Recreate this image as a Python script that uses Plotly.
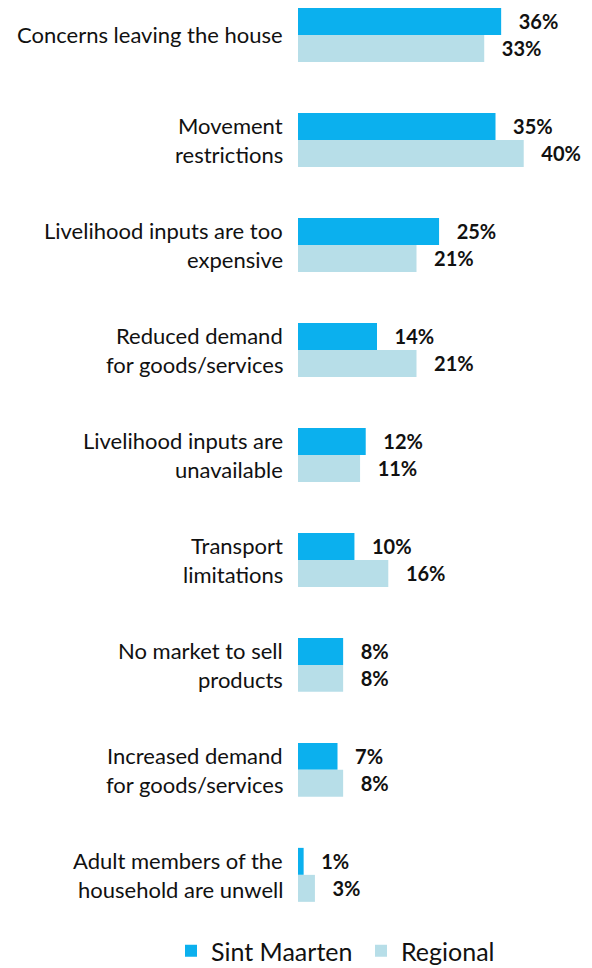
import plotly.graph_objects as go

# Reasons livelihoods were affected, share of respondents (%)
categories = [
    "Concerns leaving the house",
    "Movement restrictions",
    "Livelihood inputs are too expensive",
    "Reduced demand for goods/services",
    "Livelihood inputs are unavailable",
    "Transport limitations",
    "No market to sell products",
    "Increased demand for goods/services",
    "Adult members of the household are unwell",
]
# Wrapped label lines shown next to each category
label_lines = [
    ["Concerns leaving the house"],
    ["Movement", "restrictions"],
    ["Livelihood inputs are too", "expensive"],
    ["Reduced demand", "for goods/services"],
    ["Livelihood inputs are", "unavailable"],
    ["Transport", "limitations"],
    ["No market to sell", "products"],
    ["Increased demand", "for goods/services"],
    ["Adult members of the", "household are unwell"],
]
sint_maarten = [36, 35, 25, 14, 12, 10, 8, 7, 1]
regional = [33, 40, 21, 21, 11, 16, 8, 8, 3]

C_SXM = "#0BB0EE"
C_REG = "#B7DEE8"
FONT = "Lato, 'Open Sans', sans-serif"
PAD = "\u00a0" * 3

fig = go.Figure()
for name, vals, col, leg in [("Sint Maarten", sint_maarten, C_SXM, "legend"),
                             ("Regional", regional, C_REG, "legend2")]:
    fig.add_trace(go.Bar(
        y=categories, x=vals, name=name, orientation="h", legend=leg,
        marker=dict(color=col, line=dict(width=0)),
        text=[f"{PAD}{v}%" for v in vals],
        textposition="outside", cliponaxis=False, constraintext="none",
        textfont=dict(family=FONT, size=20, color="#111111", weight="bold"),
    ))

# Category labels, one annotation per line for wider line spacing
line_gap = 29
for cat, lines in zip(categories, label_lines):
    n = len(lines)
    for i, ln in enumerate(lines):
        fig.add_annotation(
            x=0, y=cat, xref="x", yref="y", text=ln, showarrow=False,
            xanchor="right", yanchor="middle", xshift=-13,
            yshift=((n - 1) / 2 - i) * line_gap,
            font=dict(family=FONT, size=22, color="#111111"),
        )

legend_style = dict(orientation="h", xref="container", xanchor="left",
                    y=(968 - 951) / 968, yref="container", yanchor="middle",
                    font=dict(family=FONT, size=25, color="#111111"),
                    itemwidth=30, bgcolor="rgba(0,0,0,0)")

fig.update_layout(
    width=592, height=968,
    margin=dict(l=298, r=0, t=0, b=48, autoexpand=False),
    plot_bgcolor="white", paper_bgcolor="white",
    barmode="group", bargap=0.486, bargroupgap=0,
    showlegend=True,
    legend=dict(x=171 / 592, **legend_style),
    legend2=dict(x=361 / 592, **legend_style),
    xaxis=dict(range=[0, 52.1], visible=False),
    yaxis=dict(range=[8.43, -0.333], showticklabels=False, showgrid=False,
               zeroline=False, showline=False, ticks=""),
)

fig.write_html("out.html")
